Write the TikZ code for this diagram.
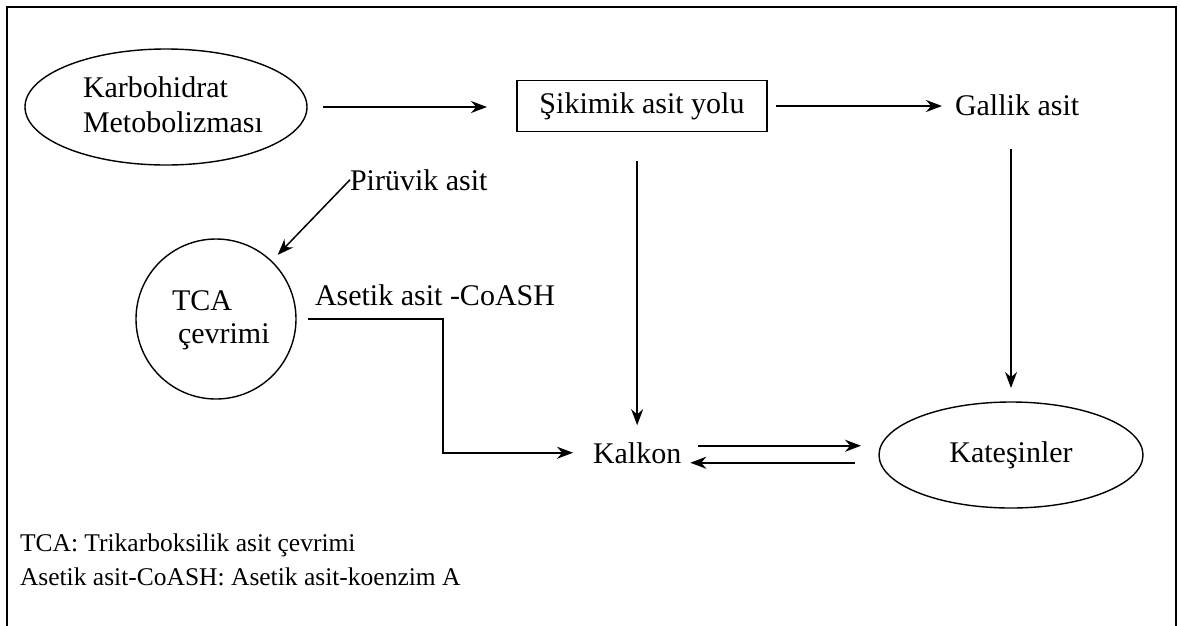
\documentclass[tikz,border=0pt]{standalone}
\usepackage{fontspec}
\setmainfont{Liberation Serif}
\usetikzlibrary{shapes.geometric, arrows.meta}
\begin{document}
\begin{tikzpicture}[x=1pt,y=-1pt,
  every node/.style={inner sep=0pt, outer sep=0pt},
  lbl/.style={font=\fontsize{30}{35}\selectfont},
  leg/.style={font=\fontsize{25.5}{34}\selectfont},
  oval/.style={draw, ellipse, line width=1.4pt},
  arr/.style={line width=1.9pt, -{Stealth[length=16pt,width=12pt]}},
  frameline/.style={line width=2.8pt}]
\useasboundingbox (0,0) rectangle (1180,625);
\draw[frameline] (7,640) -- (7,7) -- (1176,7) -- (1176,640);
% nodes
\node[oval, minimum width=282pt, minimum height=116pt] (karb) at (166,107) {};
\node[lbl, anchor=base west] (karb1) at (83,97) {Karbohidrat};
\node[lbl, anchor=base west] (karb2) at (83,132) {Metobolizması};
\node[draw, line width=1.9pt, rectangle, minimum width=250pt, minimum height=51pt, lbl] (sik) at (642,106) {Şikimik asit yolu};
\node[lbl, anchor=base west] (gal) at (955,115) {Gallik asit};
\node[lbl, anchor=base west] (pir) at (350,190) {Pirüvik asit};
\node[draw, circle, line width=1.4pt, minimum size=160pt] (tca) at (216,319) {};
\node[lbl, anchor=base west] (tca1) at (172,310) {TCA};
\node[lbl, anchor=base west] (tca2) at (178,343) {çevrimi};
\node[lbl, anchor=base west] (aset) at (315,305) {Asetik asit -CoASH};
\node[lbl, anchor=base west] (kal) at (593,463) {Kalkon};
\node[oval, lbl, minimum width=264pt, minimum height=106pt] (kat) at (1011,455) {Kateşinler};
\node[leg, anchor=base west] (leg1) at (20,551) {TCA: Trikarboksilik asit çevrimi};
\node[leg, anchor=base west] (leg2) at (20,585) {Asetik asit-CoASH: Asetik asit-koenzim A};
% connectors
\draw[arr, shorten <=16pt, shorten >=30pt] (karb.east) -- (karb.east -| sik.west);
\draw[arr, shorten <=9pt, shorten >=13pt] (sik.east) -- (sik.east -| gal.west);
\draw[arr, shorten <=29pt, shorten >=17pt] (sik.south -| kal.north) -- (kal.north);
\draw[arr, shorten <=34pt, shorten >=14pt] (gal.south -| kat.north) -- (kat.north);
\draw[arr, line width=1.5pt, shorten >=9pt] (pir.west) -- (tca);
\draw[arr, shorten <=12pt, shorten >=20pt] (tca.east) -- ++(147,0) |- (kal.west);
\draw[arr, shorten <=17pt, shorten >=18pt] ([yshift=7pt]kal.east) -- ([yshift=7pt]kal.east -| kat.west);
\draw[arr, shorten <=24pt, shorten >=9pt] ([yshift=-10pt]kal.east -| kat.west) -- ([yshift=-10pt]kal.east);
\end{tikzpicture}
\end{document}
